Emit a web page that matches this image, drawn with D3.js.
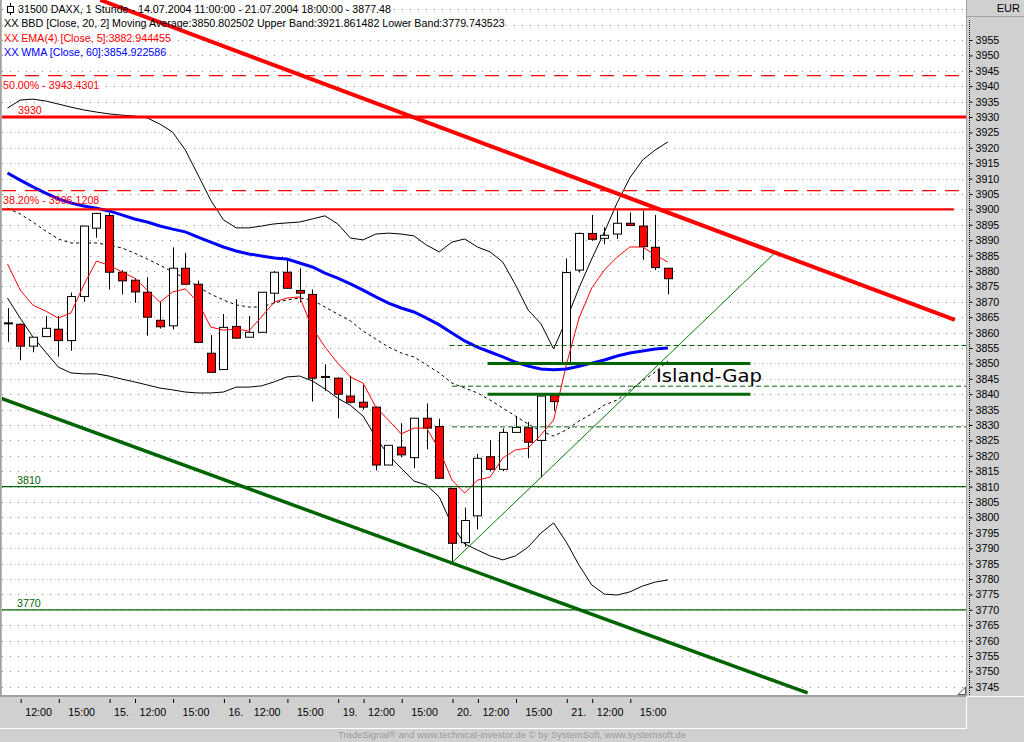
<!DOCTYPE html>
<html>
<head>
<meta charset="utf-8">
<script src="https://cdn.jsdelivr.net/npm/d3@7"></script>
<style>
  body { margin: 0; background: #d0d0d0; }
  svg { display: block; }
  text { font-family: "Liberation Sans", Arial, sans-serif; }
</style>
</head>
<body>
<div id="chart"></div>
<script>
// hourly DAX bars, 14.07.2004 11:00 - 21.07.2004 18:00
var opens = [3863.0, 3862.7, 3855.6, 3858.7, 3861.1, 3857.4, 3871.7, 3893.9, 3898.0, 3879.6,
  3877.0, 3873.1, 3864.0, 3862.2, 3880.9, 3875.7, 3853.3, 3848.0, 3862.0, 3858.5,
  3860.1, 3872.8, 3879.6, 3873.7, 3872.4, 3845.6, 3845.2, 3839.4, 3837.4, 3835.8,
  3817.0, 3822.8, 3819.4, 3832.2, 3829.5, 3809.4, 3791.8, 3800.5, 3819.7, 3815.6,
  3827.6, 3829.1, 3825.0, 3839.7, 3850.2, 3880.3, 3892.2, 3890.6, 3892.0, 3895.5,
  3894.6, 3887.7, 3880.9];
var highs = [3868.0, 3863.0, 3858.5, 3865.4, 3865.4, 3873.0, 3894.6, 3898.9, 3899.0, 3880.3,
  3877.7, 3878.0, 3869.9, 3887.7, 3885.9, 3876.9, 3859.2, 3866.0, 3870.8, 3865.4,
  3873.1, 3880.0, 3883.6, 3880.9, 3874.0, 3849.7, 3845.5, 3846.0, 3843.0, 3836.0,
  3823.4, 3830.6, 3832.2, 3837.0, 3832.0, 3809.4, 3803.2, 3820.6, 3825.0, 3828.9,
  3832.9, 3831.0, 3839.4, 3840.0, 3884.1, 3892.5, 3898.2, 3894.2, 3899.6, 3899.0,
  3899.6, 3898.2, 3880.9];
var lows = [3857.0, 3851.0, 3853.6, 3858.7, 3852.2, 3854.1, 3870.0, 3890.8, 3874.0, 3872.4,
  3869.7, 3859.0, 3861.3, 3861.0, 3875.7, 3856.8, 3847.0, 3848.0, 3858.0, 3858.5,
  3860.0, 3869.5, 3874.4, 3869.8, 3837.6, 3841.1, 3832.2, 3837.0, 3835.0, 3815.2,
  3817.0, 3819.5, 3816.0, 3822.1, 3812.7, 3785.3, 3790.5, 3796.1, 3815.0, 3815.0,
  3827.6, 3819.2, 3813.0, 3834.5, 3850.2, 3879.5, 3889.8, 3888.7, 3890.4, 3894.8,
  3883.6, 3880.3, 3872.4];
var closes = [3863.0, 3855.6, 3858.5, 3861.4, 3857.4, 3871.7, 3894.6, 3898.7, 3879.6, 3876.8,
  3873.2, 3865.0, 3861.9, 3880.9, 3875.7, 3856.8, 3847.1, 3861.7, 3858.2, 3860.1,
  3873.1, 3879.6, 3874.4, 3872.8, 3845.2, 3845.6, 3840.0, 3837.4, 3835.8, 3817.0,
  3823.4, 3820.3, 3832.2, 3829.0, 3812.7, 3791.6, 3799.0, 3819.2, 3815.6, 3827.6,
  3829.2, 3824.4, 3839.4, 3837.6, 3879.5, 3892.2, 3890.3, 3891.6, 3895.5, 3894.8,
  3887.9, 3881.1, 3877.5];

// indicators
var bbUpper = [3932.9, 3935.5, 3935.8, 3935.2, 3934.2, 3933.2, 3932.3, 3931.6, 3931.0, 3930.6,
  3930.3, 3929.7, 3927.7, 3925.1, 3919.3, 3911.2, 3903.0, 3896.6, 3894.0, 3894.0,
  3894.6, 3895.3, 3895.6, 3895.9, 3896.9, 3897.9, 3895.3, 3890.7, 3890.1, 3892.0,
  3892.3, 3892.0, 3891.4, 3888.4, 3886.2, 3889.4, 3890.4, 3887.8, 3886.2, 3882.9,
  3875.5, 3867.3, 3862.9, 3854.7, 3864.1, 3874.5, 3883.9, 3892.7, 3902.1, 3910.2,
  3916.0, 3919.3, 3921.9];
var bbMiddle = [3900.4, 3898.5, 3895.9, 3893.0, 3890.4, 3889.1, 3889.1, 3889.1, 3888.4, 3887.5,
  3885.8, 3883.9, 3881.9, 3879.7, 3877.7, 3874.8, 3872.5, 3870.6, 3869.0, 3868.3,
  3868.3, 3869.6, 3870.6, 3871.2, 3870.6, 3868.3, 3866.0, 3863.8, 3860.5, 3857.9,
  3855.3, 3853.4, 3852.1, 3849.5, 3846.9, 3843.6, 3842.0, 3840.4, 3838.1, 3835.5,
  3832.9, 3830.3, 3828.0, 3826.4, 3828.4, 3831.3, 3833.6, 3836.5, 3838.1, 3841.4,
  3844.3, 3847.2, 3850.8];
var bbLower = [3871.2, 3864.7, 3858.6, 3853.7, 3848.8, 3846.9, 3846.6, 3846.6, 3845.9, 3844.9,
  3844.0, 3843.0, 3842.0, 3841.4, 3840.7, 3840.4, 3840.4, 3840.7, 3842.3, 3842.3,
  3842.7, 3844.0, 3845.6, 3845.9, 3844.3, 3841.7, 3838.7, 3836.4, 3832.9, 3826.0,
  3820.2, 3816.0, 3811.8, 3810.5, 3806.6, 3797.5, 3791.4, 3789.4, 3787.5, 3786.2,
  3787.5, 3790.4, 3794.9, 3798.2, 3792.0, 3784.5, 3778.1, 3775.1, 3774.8, 3775.8,
  3777.7, 3779.0, 3779.7];
var ema = [3882.3, 3873.8, 3868.9, 3867.0, 3864.7, 3866.4, 3875.4, 3883.2, 3881.9, 3879.7,
  3877.7, 3873.8, 3869.9, 3873.2, 3874.2, 3869.9, 3861.8, 3860.8, 3861.2, 3860.5,
  3865.1, 3869.9, 3871.2, 3871.6, 3861.5, 3855.3, 3850.1, 3845.6, 3843.6, 3835.8,
  3831.6, 3827.1, 3829.0, 3829.0, 3821.9, 3812.1, 3807.9, 3812.1, 3813.1, 3819.3,
  3821.9, 3822.5, 3826.8, 3831.6, 3849.5, 3864.7, 3874.5, 3880.3, 3884.5, 3887.8,
  3887.8, 3885.2, 3882.9];
var wma = [3911.8, 3909.5, 3907.3, 3905.3, 3903.4, 3902.1, 3901.1, 3900.4, 3899.5, 3898.2,
  3896.9, 3895.9, 3894.6, 3893.6, 3892.7, 3891.0, 3889.4, 3887.8, 3886.5, 3885.5,
  3884.9, 3884.2, 3883.9, 3882.6, 3881.3, 3879.3, 3877.7, 3875.8, 3873.8, 3871.6,
  3869.6, 3868.0, 3866.7, 3864.7, 3862.5, 3859.9, 3857.3, 3855.3, 3853.7, 3852.1,
  3850.4, 3849.1, 3848.2, 3847.9, 3848.2, 3849.1, 3850.1, 3851.1, 3852.4, 3853.4,
  3854.0, 3854.7, 3855.0];

// time axis
var timeTickIdx = [1, 4, 8, 10, 13, 17, 19, 22, 26, 28, 31, 35, 37, 40, 44, 46, 49];
var timeTickLabels = ["12:00", "15:00", "15.", "12:00", "15:00", "16.", "12:00", "15:00", "19.",
  "12:00", "15:00", "20.", "12:00", "15:00", "21.", "12:00", "15:00"];
var priceTicks = d3.range(3745, 3956, 5);
var gridLevels = d3.range(3745, 3966, 5);

// drawn levels and trend lines (bar index, price)
var fibLevels = [3943.4301, 3906.1208];
var fibLabels = ["50.00% - 3943.4301", "38.20% - 3906.1208"];
var redLevels = [3930, 3900];
var greenLevels = [3810, 3770];
var gapLevels = [3850, 3840];
var gapSpan = [37.8, 58.5];
var gapDashed = [3855.8, 3842.6, 3829.4];
var gapDashedStart = [34.8, 35.0, 35.0];
var redTrend = [[7.3, 3968.0], [74.6, 3864.1]];
var greenTrend = [[-0.6, 3838.8], [63.0, 3743.0]];
var greenUp = [[35.0, 3785.3], [60.4, 3885.8]];

var legend = [
  {t: "31500  DAXX, 1 Stunde - 14.07.2004 11:00:00 - 21.07.2004 18:00:00 - 3877.48", c: "#000"},
  {t: "XX BBD [Close, 20, 2] Moving Average:3850.802502 Upper Band:3921.861482 Lower Band:3779.743523", c: "#000"},
  {t: "XX EMA(4) [Close, 5]:3882.944455", c: "#ff0000"},
  {t: "XX WMA [Close, 60]:3854.922586", c: "#0000ff"}
];

var W = 1024, H = 742;
var plotL = 2, plotR = 966, plotB = 695;

var svg = d3.select("#chart").append("svg")
  .attr("width", W).attr("height", H)
  .style("background", "#d0d0d0");

svg.append("defs").append("clipPath").attr("id", "plotclip")
  .append("rect").attr("x", plotL).attr("y", 0)
  .attr("width", plotR - plotL).attr("height", plotB);

svg.append("rect").attr("x", plotL).attr("y", 0)
  .attr("width", plotR - plotL).attr("height", plotB)
  .style("fill", "#fff");

var x = d3.scaleLinear().domain([0, 52]).range([7.5, 667.9]);
var y = d3.scaleLinear().domain([3745, 3955]).range([686.8, 40]);

var plot = svg.append("g").attr("clip-path", "url(#plotclip)");

// dotted grid
plot.selectAll("line.grid").data(gridLevels).enter().append("line")
  .attr("x1", plotL).attr("x2", plotR)
  .attr("y1", function(d) { return Math.round(y(d)) + 0.5; })
  .attr("y2", function(d) { return Math.round(y(d)) + 0.5; })
  .style("stroke", "#8c8c8c").style("stroke-dasharray", "1,7");

// bollinger bands
var line = d3.line()
  .x(function(d, i) { return x(i); })
  .y(function(d) { return y(d); });

plot.append("path").datum(bbUpper).attr("d", line)
  .style("fill", "none").style("stroke", "#000").style("stroke-width", 1);
plot.append("path").datum(bbLower).attr("d", line)
  .style("fill", "none").style("stroke", "#000").style("stroke-width", 1);
plot.append("path").datum(bbMiddle).attr("d", line)
  .style("fill", "none").style("stroke", "#000").style("stroke-width", 1)
  .style("stroke-dasharray", "3,3");

// candles
var bars = d3.range(opens.length);
var bw = 9;
plot.selectAll("line.wick").data(bars).enter().append("line")
  .attr("x1", function(i) { return Math.round(x(i)) + 0.5; })
  .attr("x2", function(i) { return Math.round(x(i)) + 0.5; })
  .attr("y1", function(i) { return y(highs[i]); })
  .attr("y2", function(i) { return y(lows[i]); })
  .style("stroke", "#000");

plot.selectAll("rect.body").data(bars.filter(function(i) { return Math.abs(opens[i] - closes[i]) > 0.2; }))
  .enter().append("rect")
  .attr("x", function(i) { return Math.round(x(i)) - 4 + 0.5; })
  .attr("y", function(i) { return y(Math.max(opens[i], closes[i])); })
  .attr("width", bw - 1)
  .attr("height", function(i) { return Math.max(1, y(Math.min(opens[i], closes[i])) - y(Math.max(opens[i], closes[i]))); })
  .style("fill", function(i) { return closes[i] >= opens[i] ? "#fff" : "#ff0000"; })
  .style("stroke", "#000").style("stroke-width", 1);

plot.selectAll("line.doji").data(bars.filter(function(i) { return Math.abs(opens[i] - closes[i]) <= 0.2; }))
  .enter().append("line")
  .attr("x1", function(i) { return Math.round(x(i)) - 4; })
  .attr("x2", function(i) { return Math.round(x(i)) + 5; })
  .attr("y1", function(i) { return y(closes[i]); })
  .attr("y2", function(i) { return y(closes[i]); })
  .style("stroke", "#000").style("stroke-width", 2);

// ema and wma
plot.append("path").datum(ema).attr("d", line)
  .style("fill", "none").style("stroke", "#ff0000").style("stroke-width", 1);
plot.append("path").datum(wma).attr("d", line)
  .style("fill", "none").style("stroke", "#0000ff").style("stroke-width", 3);

// horizontal levels
plot.selectAll("line.fib").data(fibLevels).enter().append("line")
  .attr("x1", plotL).attr("x2", plotR)
  .attr("y1", function(d) { return y(d); }).attr("y2", function(d) { return y(d); })
  .style("stroke", "#ff0000").style("stroke-width", 1.3).style("stroke-dasharray", "14,9");

plot.selectAll("line.red").data(redLevels).enter().append("line")
  .attr("x1", plotL)
  .attr("x2", function(d, i) { return i === 0 ? plotR : x(74.5); })
  .attr("y1", function(d) { return y(d); }).attr("y2", function(d) { return y(d); })
  .style("stroke", "#ff0000").style("stroke-width", function(d, i) { return i === 0 ? 3.2 : 2.2; });

plot.selectAll("line.green").data(greenLevels).enter().append("line")
  .attr("x1", plotL).attr("x2", plotR)
  .attr("y1", function(d) { return y(d); }).attr("y2", function(d) { return y(d); })
  .style("stroke", "#006400").style("stroke-width", 1.2);

plot.selectAll("line.gapd").data(gapDashed).enter().append("line")
  .attr("x1", function(d, i) { return x(gapDashedStart[i]); }).attr("x2", plotR)
  .attr("y1", function(d) { return y(d); }).attr("y2", function(d) { return y(d); })
  .style("stroke", "#006400").style("stroke-width", 1).style("stroke-dasharray", "5,3");

plot.selectAll("line.gap").data(gapLevels).enter().append("line")
  .attr("x1", x(gapSpan[0])).attr("x2", x(gapSpan[1]))
  .attr("y1", function(d) { return y(d); }).attr("y2", function(d) { return y(d); })
  .style("stroke", "#006400").style("stroke-width", 3);

// trend lines
var tline = d3.line()
  .x(function(d) { return x(d[0]); })
  .y(function(d) { return y(d[1]); });
plot.append("path").datum(redTrend).attr("d", tline)
  .style("stroke", "#ff0000").style("stroke-width", 4).style("fill", "none");
plot.append("path").datum(greenTrend).attr("d", tline)
  .style("stroke", "#006400").style("stroke-width", 3.5).style("fill", "none");
plot.append("path").datum(greenUp).attr("d", tline)
  .style("stroke", "#008000").style("stroke-width", 1).style("fill", "none");

// level labels
plot.selectAll("text.fib").data(fibLevels).enter().append("text")
  .attr("x", 3).attr("y", function(d) { return y(d) + 13; })
  .text(function(d, i) { return fibLabels[i]; })
  .style("font-size", "10.7px").style("fill", "#ff0000");
plot.append("text").attr("x", 18).attr("y", y(redLevels[0]) - 3)
  .text(String(redLevels[0])).style("font-size", "10.7px").style("fill", "#ff0000");
plot.selectAll("text.green").data(greenLevels).enter().append("text")
  .attr("x", 17).attr("y", function(d) { return y(d) - 3; })
  .text(function(d) { return d; })
  .style("font-size", "10.7px").style("fill", "#006400");

plot.append("text").attr("x", 656).attr("y", 382)
  .text("Island-Gap").style("font-size", "17px").style("fill", "#000")
  .style("font-family", "'DejaVu Sans', sans-serif")
  .attr("textLength", 106).attr("lengthAdjust", "spacingAndGlyphs");

// legend
svg.selectAll("text.legend").data(legend).enter().append("text")
  .attr("x", function(d, i) { return i === 0 ? 18 : 4; })
  .attr("y", function(d, i) { return 13 + i * 14.3; })
  .text(function(d) { return d.t; })
  .style("font-size", "10.7px").style("fill", function(d) { return d.c; });
// small bar icon in front of the title
svg.append("line").attr("x1", 10.5).attr("x2", 10.5).attr("y1", 3).attr("y2", 15).style("stroke", "#000");
svg.append("rect").attr("x", 7.5).attr("y", 6.5).attr("width", 6).attr("height", 6)
  .style("fill", "#fff").style("stroke", "#000");

// resize corner
svg.append("path").attr("d", "M958,694.5 L965.5,687 L965.5,694.5 Z")
  .style("fill", "#fff").style("stroke", "#555");

// frame of the panels
svg.append("line").attr("x1", 0).attr("x2", plotR).attr("y1", 696).attr("y2", 696)
  .style("stroke", "#a0a0a0").style("stroke-width", 2);
svg.append("line").attr("x1", 0).attr("x2", 967).attr("y1", 728.5).attr("y2", 728.5)
  .style("stroke", "#fff");
svg.append("line").attr("x1", 966.5).attr("x2", 966.5).attr("y1", 697).attr("y2", 729)
  .style("stroke", "#fff");
svg.append("line").attr("x1", 966.5).attr("x2", 966.5).attr("y1", 0).attr("y2", 696)
  .style("stroke", "#a0a0a0");
svg.append("line").attr("x1", 967).attr("x2", W).attr("y1", 696.5).attr("y2", 696.5)
  .style("stroke", "#fff");
svg.append("line").attr("x1", 967).attr("x2", W).attr("y1", 16.5).attr("y2", 16.5)
  .style("stroke", "#a0a0a0");
svg.append("line").attr("x1", 0.5).attr("x2", 0.5).attr("y1", 0).attr("y2", 696)
  .style("stroke", "#a0a0a0").style("stroke-width", 2);
svg.append("text").attr("x", 1020).attr("y", 12).attr("text-anchor", "end")
  .text("EUR").style("font-size", "11px").style("fill", "#000");

// price axis
svg.append("line").attr("x1", 969.5).attr("x2", 969.5).attr("y1", 20).attr("y2", 695)
  .style("stroke", "#000").style("stroke-dasharray", "1,1");
var yAxis = svg.append("g").attr("transform", "translate(969.5,0)")
  .call(d3.axisRight(y).tickValues(priceTicks).tickSize(3).tickPadding(3).tickFormat(d3.format("d")));
yAxis.select(".domain").remove();
yAxis.selectAll("text").style("font-size", "10.7px").style("font-family", "'Liberation Sans', Arial, sans-serif");

// time axis
var xAxis = svg.append("g").attr("transform", "translate(0.5,697)")
  .call(d3.axisBottom(x).tickValues(timeTickIdx).tickSize(6).tickPadding(0)
    .tickFormat(function(d, i) { return timeTickLabels[i]; }));
xAxis.select(".domain").remove();
xAxis.selectAll(".tick line").attr("y1", 2);
xAxis.selectAll("text")
  .attr("text-anchor", "start")
  .attr("y", 19)
  .attr("dy", 0)
  .attr("x", function() { return this.textContent === "15:00" ? 9 : 4; })
  .style("font-size", "10.7px").style("font-family", "'Liberation Sans', Arial, sans-serif");

// footer
svg.append("text").attr("x", 686).attr("y", 738).attr("text-anchor", "end")
  .text("TradeSignal\u00ae and www.technical-investor.de \u00a9 by  SystemSoft, www.systemsoft.de")
  .style("font-size", "9.5px").style("fill", "#9a9a9a")
  .attr("textLength", 348).attr("lengthAdjust", "spacingAndGlyphs");
</script>
</body>
</html>
